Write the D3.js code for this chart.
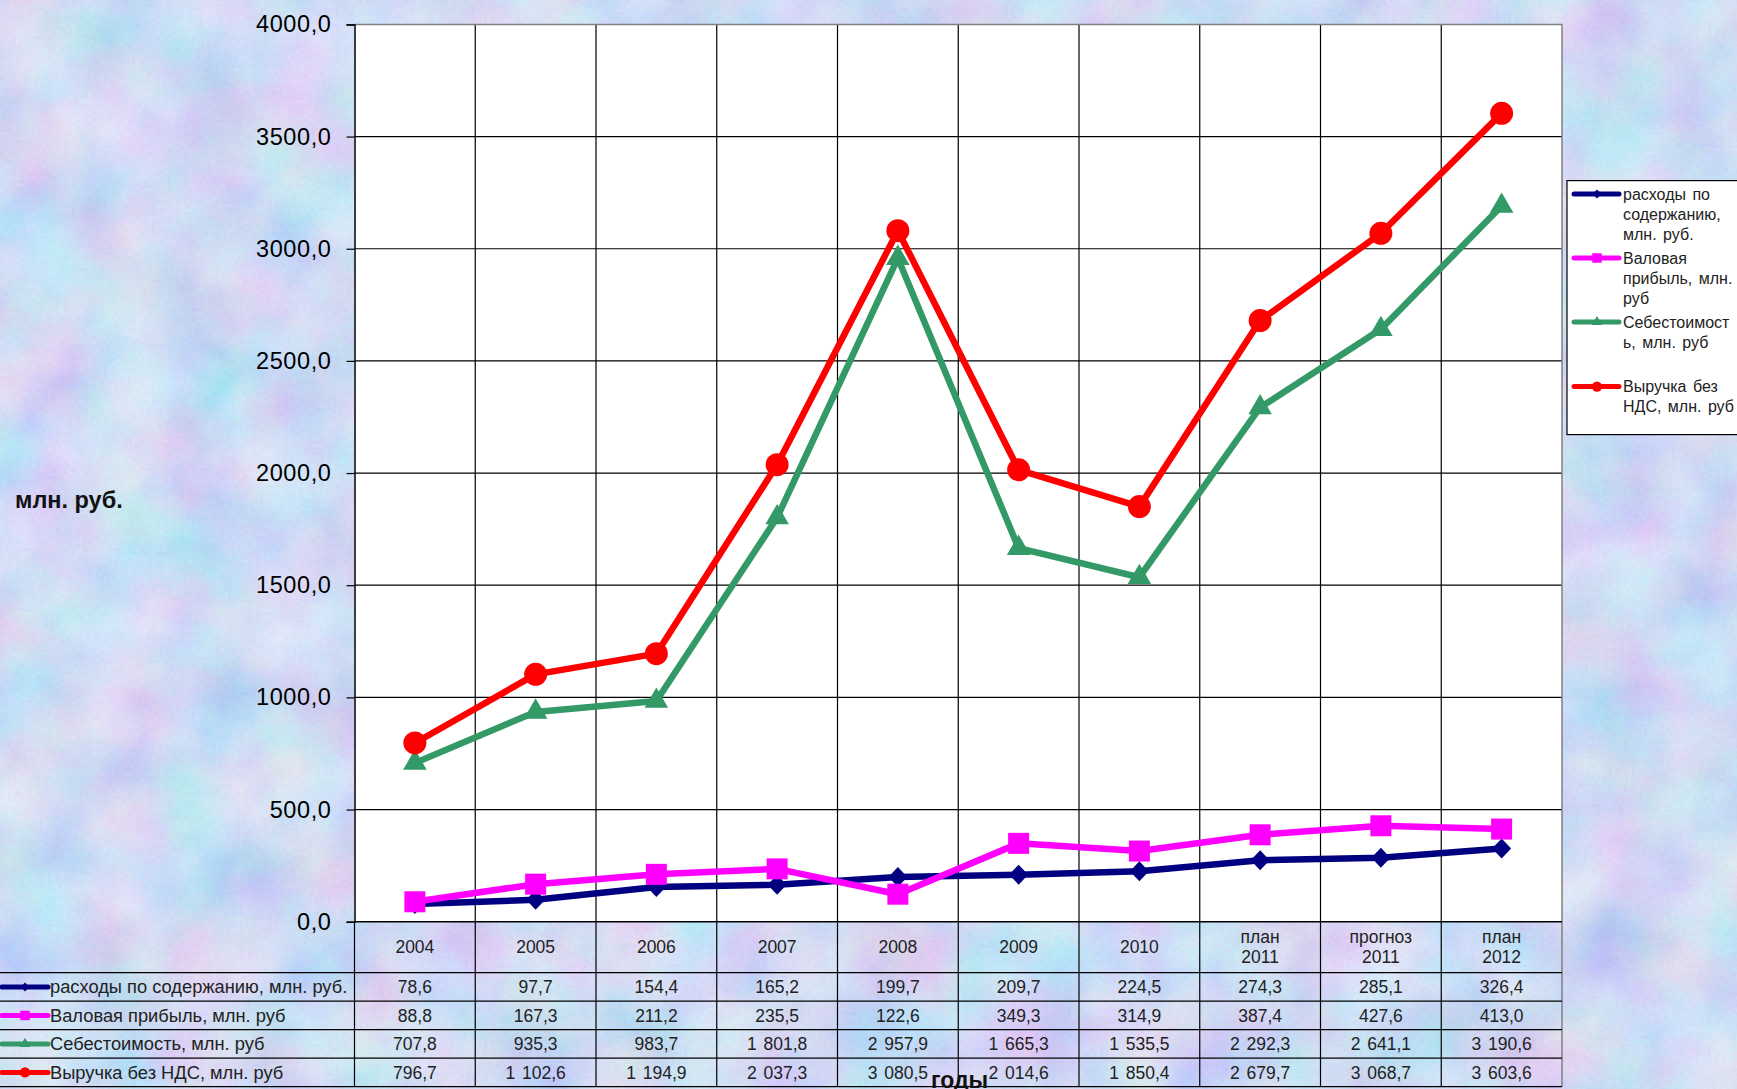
<!DOCTYPE html>
<html>
<head>
<meta charset="utf-8">
<script src="https://cdn.jsdelivr.net/npm/d3@7"></script>
<style>
  html, body { margin: 0; padding: 0; overflow: hidden; }
  svg { display: block; font-family: "Liberation Sans", Arial, sans-serif; }
</style>
</head>
<body>
<div id="viz"></div>
<script>
// data
const categories = ['2004', '2005', '2006', '2007', '2008', '2009', '2010', 'план 2011', 'прогноз 2011', 'план 2012'];
const seriesNames = [
  'расходы по содержанию, млн. руб.',
  'Валовая прибыль, млн. руб',
  'Себестоимость, млн. руб',
  'Выручка без НДС, млн. руб'
];
const legendLabels = [
  ['расходы по', 'содержанию,', 'млн. руб.'],
  ['Валовая', 'прибыль, млн.', 'руб'],
  ['Себестоимост', 'ь, млн. руб'],
  ['Выручка без', 'НДС, млн. руб']
];
const rashody = [78.6, 97.7, 154.4, 165.2, 199.7, 209.7, 224.5, 274.3, 285.1, 326.4];
const valovaya = [88.8, 167.3, 211.2, 235.5, 122.6, 349.3, 314.9, 387.4, 427.6, 413.0];
const sebestoimost = [707.8, 935.3, 983.7, 1801.8, 2957.9, 1665.3, 1535.5, 2292.3, 2641.1, 3190.6];
const vyruchka = [796.7, 1102.6, 1194.9, 2037.3, 3080.5, 2014.6, 1850.4, 2679.7, 3068.7, 3603.6];
const yTicks = [0, 500, 1000, 1500, 2000, 2500, 3000, 3500, 4000];

const seriesValues = [rashody, valovaya, sebestoimost, vyruchka];
const colors = ['#000080', '#ff00ff', '#339966', '#ff0000'];
const markers = ['diamond', 'square', 'triangle', 'circle'];

let dimensions = {
  width: 1737,
  height: 1089,
  plot: { left: 354.5, right: 1562, top: 24.4, bottom: 921.7 },
  headerH: 51,
  rowH: 28.5
}

const ru = d3.formatLocale({decimal: ',', thousands: ' ', grouping: [3], currency: ['', '']});
const fmtTable = ru.format(',.1f');
const fmtAxis = ru.format('.1f');

const svg = d3.select('#viz').append('svg')
  .attr('width', dimensions.width)
  .attr('height', dimensions.height);

// soft pastel blotches like the slide background
const defs = svg.append('defs');
const filt = defs.append('filter').attr('id', 'paper')
  .attr('x', 0).attr('y', 0).attr('width', '100%').attr('height', '100%');
filt.append('feTurbulence')
  .attr('type', 'fractalNoise')
  .attr('baseFrequency', 0.012)
  .attr('numOctaves', 3)
  .attr('seed', 11);
filt.append('feColorMatrix')
  .attr('type', 'matrix')
  .attr('values', '1.1 0 0 0 0.15  0 0.9 0 0 0.33  0 0 0.4 0 0.72  0 0 0 0 1');
const grain = defs.append('filter').attr('id', 'grain')
  .attr('x', 0).attr('y', 0).attr('width', '100%').attr('height', '100%');
grain.append('feTurbulence')
  .attr('type', 'fractalNoise')
  .attr('baseFrequency', 0.25)
  .attr('numOctaves', 2)
  .attr('seed', 3);
grain.append('feColorMatrix')
  .attr('type', 'matrix')
  .attr('values', '0.6 0 0 0 0.42  0 0.6 0 0 0.48  0 0 0.3 0 0.8  0 0 0 0 1');

svg.append('rect')
  .attr('width', dimensions.width).attr('height', dimensions.height)
  .attr('fill', '#b2c4ef');
svg.append('rect')
  .attr('width', dimensions.width).attr('height', dimensions.height)
  .attr('filter', 'url(#paper)')
  .attr('opacity', 0.65);
svg.append('rect')
  .attr('width', dimensions.width).attr('height', dimensions.height)
  .attr('filter', 'url(#grain)')
  .attr('opacity', 0.22);

const p = dimensions.plot;

const x = d3.scaleBand().domain(categories).range([p.left, p.right]);
const y = d3.scaleLinear().domain([0, 4000]).range([p.bottom, p.top]);
const cx = c => x(c) + x.bandwidth() / 2;

// plot area
svg.append('rect')
  .attr('x', p.left).attr('y', p.top)
  .attr('width', p.right - p.left).attr('height', p.bottom - p.top)
  .attr('fill', '#fff');

const tableBottom = p.bottom + dimensions.headerH + dimensions.rowH * 4;

// horizontal grid
svg.append('g')
  .selectAll('line')
  .data(yTicks.slice(1, -1))
  .join('line')
  .attr('x1', p.left).attr('x2', p.right)
  .attr('y1', d => y(d)).attr('y2', d => y(d))
  .attr('stroke', '#000').attr('stroke-width', 1.2);

// vertical grid running through the data table
svg.append('g')
  .selectAll('line')
  .data(categories.slice(1))
  .join('line')
  .attr('x1', d => x(d)).attr('x2', d => x(d))
  .attr('y1', p.top).attr('y2', tableBottom)
  .attr('stroke', '#000').attr('stroke-width', 1.2);

// plot border (top / right grey)
svg.append('path')
  .attr('d', `M${p.left},${p.top}H${p.right}V${tableBottom}`)
  .attr('fill', 'none').attr('stroke', '#808080').attr('stroke-width', 1.5);

// y axis
const yAxis = svg.append('g')
  .attr('transform', `translate(${p.left},0)`)
  .call(d3.axisLeft(y).tickValues(yTicks).tickSize(8).tickPadding(15).tickFormat(fmtAxis));
yAxis.select('.domain').attr('stroke', '#000').attr('stroke-width', 1.5);
yAxis.selectAll('.tick line').attr('stroke', '#000').attr('stroke-width', 1.2);
yAxis.selectAll('text')
  .attr('fill', '#000')
  .style('font-size', '23.5px')
  .style('letter-spacing', '0.6px')
  .style('font-family', '"Liberation Sans", Arial, sans-serif');

// x axis line (top of the table)
svg.append('line')
  .attr('x1', p.left).attr('x2', p.right)
  .attr('y1', p.bottom).attr('y2', p.bottom)
  .attr('stroke', '#000').attr('stroke-width', 1.5);

// table rows
const rowTop = i => p.bottom + dimensions.headerH + dimensions.rowH * i;
svg.append('g')
  .selectAll('line')
  .data(d3.range(5))
  .join('line')
  .attr('x1', 0).attr('x2', p.right)
  .attr('y1', d => rowTop(d)).attr('y2', d => rowTop(d))
  .attr('stroke', '#000').attr('stroke-width', 1.2);
svg.append('line')
  .attr('x1', p.left).attr('x2', p.left)
  .attr('y1', p.bottom).attr('y2', tableBottom)
  .attr('stroke', '#000').attr('stroke-width', 1.2);

// header cells
const header = svg.append('g')
  .selectAll('text')
  .data(categories)
  .join('text')
  .attr('x', d => cx(d))
  .attr('text-anchor', 'middle')
  .style('font-size', '17.5px')
  .attr('fill', '#222');
header.each(function(d) {
  const parts = d.split(' ');
  const t = d3.select(this);
  const mid = p.bottom + dimensions.headerH / 2;
  parts.forEach((s, i) => {
    t.append('tspan')
      .attr('x', cx(d))
      .attr('y', mid + (i - (parts.length - 1) / 2) * 20)
      .attr('dy', '0.35em')
      .text(s);
  });
});

// symbol helpers
function markerPath(kind, big) {
  const k = big ? 1 : 0.45;
  if (kind === 'circle') return d3.symbol(d3.symbolCircle, 415 * k * k)();
  if (kind === 'square') return d3.symbol(d3.symbolSquare, 441 * k * k)();
  if (kind === 'triangle') return d3.symbol(d3.symbolTriangle, 240 * k * k)();
  const h = 10 * k, w = 9.5 * k;
  return `M0,${-h}L${w},0L0,${h}L${-w},0Z`;
}

// table row labels with keys, and values
seriesNames.forEach((name, s) => {
  const cy = rowTop(s) + dimensions.rowH / 2;
  const key = svg.append('g');
  key.append('line')
    .attr('x1', 2).attr('x2', 48).attr('y1', cy).attr('y2', cy)
    .attr('stroke', colors[s]).attr('stroke-width', 5).attr('stroke-linecap', 'round');
  key.append('path')
    .attr('d', markerPath(markers[s], false))
    .attr('transform', `translate(25,${cy})`)
    .attr('fill', colors[s]);
  svg.append('text')
    .attr('x', 50).attr('y', cy).attr('dy', '0.35em')
    .style('font-size', '18.3px')
    .attr('fill', '#222')
    .text(name);
  svg.append('g')
    .selectAll('text')
    .data(seriesValues[s])
    .join('text')
    .attr('x', (d, i) => cx(categories[i]))
    .attr('y', cy).attr('dy', '0.35em')
    .attr('text-anchor', 'middle')
    .style('font-size', '17.5px')
    .style('word-spacing', '2px')
    .attr('fill', '#222')
    .text(d => fmtTable(d));
});

// series lines and markers
const lineGen = d3.line()
  .x((d, i) => cx(categories[i]))
  .y(d => y(d));

seriesValues.forEach((vals, s) => {
  svg.append('path')
    .datum(vals)
    .attr('d', lineGen)
    .attr('fill', 'none')
    .attr('stroke', colors[s])
    .attr('stroke-width', 6.5)
    .attr('stroke-linejoin', 'round');
  svg.append('g')
    .selectAll('path')
    .data(vals)
    .join('path')
    .attr('d', markerPath(markers[s], true))
    .attr('transform', (d, i) => `translate(${cx(categories[i])},${y(d)})`)
    .attr('fill', colors[s]);
});

// legend
const lg = { x: 1567, y: 180.6, w: 172, h: 254 };
const legend = svg.append('g');
legend.append('rect')
  .attr('x', lg.x).attr('y', lg.y).attr('width', lg.w).attr('height', lg.h)
  .attr('fill', '#fff').attr('stroke', '#000').attr('stroke-width', 1.2);
const entryY = [194, 258, 322, 386.6];
legendLabels.forEach((lines, s) => {
  const ly = entryY[s];
  legend.append('line')
    .attr('x1', 1574).attr('x2', 1619).attr('y1', ly).attr('y2', ly)
    .attr('stroke', colors[s]).attr('stroke-width', 5).attr('stroke-linecap', 'round');
  legend.append('path')
    .attr('d', markerPath(markers[s], false))
    .attr('transform', `translate(1597,${ly})`)
    .attr('fill', colors[s]);
  legend.append('text')
    .attr('x', 1623)
    .style('font-size', '16px')
    .style('word-spacing', '2px')
    .attr('fill', '#222')
    .selectAll('tspan')
    .data(lines)
    .join('tspan')
    .attr('x', 1623)
    .attr('y', (d, i) => ly + i * 20)
    .attr('dy', '0.35em')
    .text(d => d);
});

// axis titles
svg.append('text')
  .attr('x', 15).attr('y', 508)
  .style('font-size', '23.5px').style('font-weight', 'bold')
  .attr('fill', '#111')
  .text('млн. руб.');
svg.append('text')
  .attr('x', 931).attr('y', 1088)
  .style('font-size', '23px').style('font-weight', 'bold')
  .attr('fill', '#111')
  .text('годы');
</script>
</body>
</html>
